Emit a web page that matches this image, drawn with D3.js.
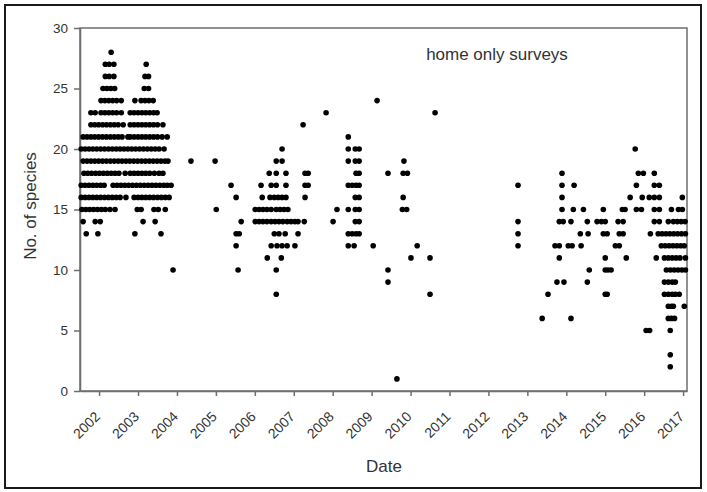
<!DOCTYPE html>
<html>
<head>
<meta charset="utf-8">
<script src="https://cdn.jsdelivr.net/npm/d3@7"></script>
<style>
  body { margin: 0; background: #fff; }
  svg { display: block; font-family: "Liberation Sans", Arial, sans-serif; }
</style>
</head>
<body>
<svg id="chart"></svg>
<script>
// survey dates as decimal years, grouped by number of species recorded
const surveys2002 = [
  [28, [2002.31]],
  [27, [2002.16, 2002.26, 2002.38, 2003.21]],
  [26, [2002.16, 2002.26, 2002.38, 2003.18, 2003.27]],
  [25, [2002.10, 2002.20, 2002.30, 2002.40, 2003.16, 2003.27]],
  [24, [2002.05, 2002.15, 2002.25, 2002.35, 2002.45, 2002.57, 2002.92, 2003.08, 2003.18, 2003.28, 2003.39]],
  [23, [2001.79, 2001.90, 2002.05, 2002.15, 2002.25, 2002.35, 2002.45, 2002.57, 2002.80, 2002.90, 2003.00, 2003.10, 2003.20, 2003.30, 2003.40, 2003.49]],
  [22, [2001.79, 2001.89, 2001.99, 2002.09, 2002.19, 2002.29, 2002.39, 2002.49, 2002.62, 2002.80, 2002.90, 2003.00, 2003.10, 2003.20, 2003.30, 2003.40, 2003.50, 2003.64]],
  [21, [2001.59, 2001.69, 2001.79, 2001.89, 2001.99, 2002.09, 2002.19, 2002.29, 2002.39, 2002.49, 2002.59, 2002.74, 2002.80, 2002.90, 2003.00, 2003.10, 2003.20, 2003.30, 2003.40, 2003.50, 2003.62, 2003.75]],
  [20, [2001.54, 2001.64, 2001.74, 2001.84, 2001.94, 2002.04, 2002.14, 2002.24, 2002.34, 2002.44, 2002.54, 2002.64, 2002.74, 2002.84, 2002.94, 2003.04, 2003.14, 2003.24, 2003.34, 2003.44, 2003.54, 2003.67]],
  [19, [2001.59, 2001.69, 2001.79, 2001.89, 2001.99, 2002.09, 2002.19, 2002.29, 2002.39, 2002.49, 2002.59, 2002.69, 2002.79, 2002.89, 2002.99, 2003.09, 2003.19, 2003.29, 2003.39, 2003.49, 2003.59, 2003.69, 2003.77]],
  [18, [2001.61, 2001.71, 2001.81, 2001.91, 2002.01, 2002.11, 2002.21, 2002.31, 2002.41, 2002.51, 2002.67, 2002.80, 2002.90, 2003.00, 2003.10, 2003.20, 2003.30, 2003.42, 2003.54, 2003.64]],
  [17, [2001.54, 2001.64, 2001.74, 2001.84, 2001.94, 2002.04, 2002.13, 2002.36, 2002.46, 2002.56, 2002.66, 2002.76, 2002.86, 2002.96, 2003.06, 2003.16, 2003.26, 2003.36, 2003.46, 2003.56, 2003.66, 2003.75, 2003.85]],
  [16, [2001.54, 2001.64, 2001.74, 2001.84, 2001.94, 2002.04, 2002.14, 2002.24, 2002.34, 2002.44, 2002.54, 2002.69, 2002.90, 2003.00, 2003.10, 2003.20, 2003.30, 2003.40, 2003.50, 2003.60, 2003.70, 2003.80]],
  [15, [2001.56, 2001.66, 2001.76, 2001.86, 2001.96, 2002.06, 2002.16, 2002.28, 2002.41, 2002.98, 2003.08, 2003.41, 2003.52, 2003.70]],
  [14, [2001.59, 2001.90, 2002.03, 2003.13, 2003.44]],
  [13, [2001.67, 2001.97, 2002.92, 2003.59]],
  [10, [2003.90]]
];

const surveys2004 = [
  [22, [2007.24]],
  [20, [2006.70]],
  [19, [2004.36, 2004.98, 2006.55, 2006.70]],
  [18, [2006.37, 2006.55, 2006.80, 2007.29, 2007.37]],
  [17, [2005.39, 2006.16, 2006.42, 2006.55, 2006.80, 2007.29, 2007.37]],
  [16, [2005.52, 2006.19, 2006.39, 2006.50, 2006.60, 2006.70, 2006.80, 2007.29]],
  [15, [2005.01, 2006.01, 2006.11, 2006.21, 2006.31, 2006.42, 2006.55, 2006.65, 2006.75, 2006.85, 2008.11]],
  [14, [2005.65, 2006.01, 2006.11, 2006.21, 2006.31, 2006.42, 2006.52, 2006.62, 2006.72, 2006.83, 2006.93, 2007.03, 2007.11, 2007.27, 2008.01]],
  [13, [2005.52, 2005.60, 2006.50, 2006.62, 2006.78, 2007.11]],
  [12, [2005.52, 2006.42, 2006.57, 2006.70, 2006.83, 2007.03]],
  [11, [2006.32, 2006.68]],
  [10, [2005.57, 2006.55]],
  [8, [2006.55]]
];

const surveys2008 = [
  [24, [2009.14]],
  [23, [2007.83, 2010.63]],
  [21, [2008.40]],
  [20, [2008.40, 2008.58, 2008.68]],
  [19, [2008.40, 2008.58, 2008.68, 2009.83]],
  [18, [2008.60, 2008.68, 2009.42, 2009.81, 2009.92]],
  [17, [2008.40, 2008.50, 2008.60, 2008.68]],
  [16, [2008.58, 2008.68, 2009.81]],
  [15, [2008.40, 2008.58, 2008.68, 2009.79, 2009.90]],
  [14, [2008.58, 2008.68]],
  [13, [2008.40, 2008.50, 2008.60, 2008.68]],
  [12, [2008.40, 2008.55, 2009.04, 2010.17]],
  [11, [2010.01, 2010.50]],
  [10, [2009.42]],
  [9, [2009.42]],
  [8, [2010.50]],
  [1, [2009.65]]
];

const surveys2013 = [
  [20, [2015.77]],
  [18, [2013.89, 2015.85, 2015.98, 2016.26]],
  [17, [2012.76, 2013.89, 2014.20, 2015.80, 2016.26, 2016.39]],
  [16, [2013.89, 2015.64, 2015.95, 2016.13, 2016.26, 2016.39, 2016.98]],
  [15, [2013.89, 2014.18, 2014.44, 2014.95, 2015.44, 2015.51, 2015.80, 2015.93, 2016.26, 2016.39, 2016.70, 2016.88, 2016.98]],
  [14, [2012.76, 2013.82, 2013.92, 2014.12, 2014.54, 2014.79, 2014.90, 2015.00, 2015.33, 2015.46, 2016.26, 2016.39, 2016.62, 2016.75, 2016.85, 2016.95, 2017.05]],
  [13, [2012.76, 2014.36, 2014.56, 2014.95, 2015.05, 2015.36, 2015.46, 2016.16, 2016.36, 2016.46, 2016.56, 2016.66, 2016.76, 2016.86, 2016.96, 2017.06]],
  [12, [2012.76, 2013.71, 2013.82, 2014.05, 2014.15, 2014.38, 2015.26, 2015.36, 2016.44, 2016.54, 2016.64, 2016.74, 2016.84, 2016.94, 2017.03]],
  [11, [2013.82, 2015.00, 2015.54, 2016.31, 2016.52, 2016.62, 2016.72, 2016.82, 2016.92, 2017.06]],
  [10, [2014.59, 2015.00, 2015.07, 2015.15, 2016.57, 2016.67, 2016.77, 2016.87, 2016.97, 2017.06]],
  [9, [2013.76, 2013.94, 2014.54, 2016.52, 2016.62, 2016.72, 2016.80]],
  [8, [2013.53, 2015.00, 2015.05, 2016.52, 2016.62, 2016.72, 2016.80, 2016.90]],
  [7, [2016.62, 2016.70, 2016.75, 2017.03]],
  [6, [2013.38, 2014.12, 2016.62, 2016.70, 2016.78]],
  [5, [2016.05, 2016.14, 2016.67]],
  [3, [2016.67]],
  [2, [2016.67]]
];

const yearTicks = [2002, 2003, 2004, 2005, 2006, 2007, 2008, 2009, 2010, 2011, 2012, 2013, 2014, 2015, 2016, 2017];
const speciesTicks = [0, 5, 10, 15, 20, 25, 30];

const width = 707, height = 492;
const margin = { top: 28, right: 20, bottom: 101, left: 80 };

const points = [surveys2002, surveys2004, surveys2008, surveys2013]
  .flatMap(group => group.flatMap(([species, dates]) => dates.map(date => ({ date, species }))));

const svg = d3.select('#chart')
  .attr('width', width)
  .attr('height', height);

svg.append('rect')
  .attr('width', width).attr('height', height)
  .attr('fill', '#fff');

// outer frame round the whole figure
svg.append('rect')
  .attr('x', 5).attr('y', 5)
  .attr('width', 696).attr('height', 483)
  .attr('fill', 'none')
  .attr('stroke', '#1a1a1a')
  .attr('stroke-width', 2);

const x = d3.scaleLinear()
  .domain([2001.51, 2017.1])
  .range([margin.left, width - margin.right]);

const y = d3.scaleLinear()
  .domain([0, 30])
  .range([height - margin.bottom, margin.top]);

const axisColor = '#6e6e6e';
const textColor = '#333';

// plot box
svg.append('rect')
  .attr('x', x.range()[0]).attr('y', y.range()[1])
  .attr('width', x.range()[1] - x.range()[0])
  .attr('height', y.range()[0] - y.range()[1])
  .attr('fill', 'none')
  .attr('stroke', axisColor)
  .attr('stroke-width', 1.5);

const xAxis = svg.append('g')
  .attr('transform', `translate(0,${y.range()[0]})`)
  .call(d3.axisBottom(x).tickValues(yearTicks).tickFormat(d3.format('d')).tickSize(5).tickSizeOuter(0));

const yAxis = svg.append('g')
  .attr('transform', `translate(${x.range()[0]},0)`)
  .call(d3.axisLeft(y).tickValues(speciesTicks).tickSize(6).tickSizeOuter(0).tickPadding(6));

[xAxis, yAxis].forEach(g => {
  g.select('.domain').attr('stroke', axisColor).attr('stroke-width', 1.5);
  g.selectAll('.tick line').attr('stroke', axisColor).attr('stroke-width', 1.5);
  g.selectAll('text')
    .attr('fill', textColor)
    .style('font-size', '13.5px')
    .style('font-family', '"Liberation Sans", Arial, sans-serif');
});

// slanted year labels
xAxis.selectAll('text')
  .attr('text-anchor', 'end')
  .attr('x', 0).attr('y', 0)
  .attr('dy', '0.35em')
  .style('font-size', '14px')
  .attr('transform', 'translate(-2,23) rotate(-45)');

svg.append('g')
  .selectAll('circle')
  .data(points)
  .join('circle')
  .attr('cx', d => x(d.date))
  .attr('cy', d => y(d.species))
  .attr('r', 2.8)
  .attr('fill', '#000');

svg.append('text')
  .attr('x', 497).attr('y', 60)
  .attr('text-anchor', 'middle')
  .attr('fill', textColor)
  .style('font-size', '17px')
  .text('home only surveys');

svg.append('text')
  .attr('x', 384).attr('y', 472)
  .attr('text-anchor', 'middle')
  .attr('fill', textColor)
  .style('font-size', '17px')
  .text('Date');

svg.append('text')
  .attr('transform', 'translate(36,206) rotate(-90)')
  .attr('text-anchor', 'middle')
  .attr('fill', textColor)
  .style('font-size', '17px')
  .text('No. of species');
</script>
</body>
</html>
